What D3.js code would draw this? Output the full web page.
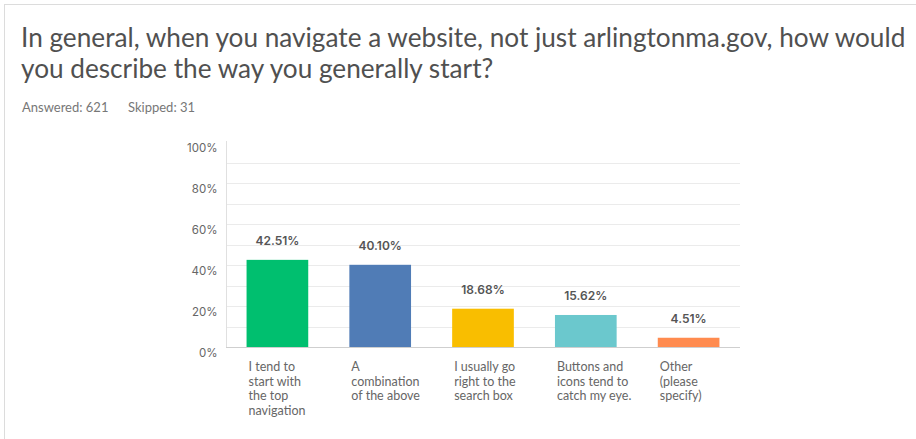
<!DOCTYPE html>
<html>
<head>
<meta charset="utf-8">
<script src="https://cdn.jsdelivr.net/npm/d3@7"></script>
<style>
  html, body { margin: 0; padding: 0; background: #fff; }
  svg { display: block; }
</style>
</head>
<body>
<svg id="chart" width="916" height="439"></svg>
<script>
// Survey question and response summary
const titleLines = [
  "In general, when you navigate a website, not just arlingtonma.gov, how would",
  "you describe the way you generally start?"
];
const answeredText = "Answered: 621";
const skippedText = "Skipped: 31";

// Answer choices (line breaks as shown under each bar)
const categories = [
  "I tend to\nstart with\nthe top\nnavigation",
  "A\ncombination\nof the above",
  "I usually go\nright to the\nsearch box",
  "Buttons and\nicons tend to\ncatch my eye.",
  "Other\n(please\nspecify)"
];
const percents = [42.51, 40.10, 18.68, 15.62, 4.51];
const barColors = ["#00bf6f", "#507cb6", "#f9be00", "#6bc8cd", "#ff8b4f"];
const yTicks = [0, 20, 40, 60, 80, 100];
const gridValues = [10, 20, 30, 40, 50, 60, 70, 80, 90];

const svg = d3.select("#chart");

// Card outline
svg.append("rect")
  .attr("x", 4.5).attr("y", 4.5)
  .attr("width", 940).attr("height", 460)
  .attr("fill", "#fff")
  .attr("stroke", "#dcdcdc");

// Title
const title = svg.append("text")
  .attr("x", 21)
  .attr("font-family", "Lato, 'Open Sans', sans-serif")
  .attr("font-size", 24)
  .attr("fill", "#505050");
title.selectAll("tspan").data(titleLines).join("tspan")
  .attr("x", 21)
  .attr("y", (d, i) => 47 + i * 31)
  .text(d => d);
// fit first line to the card width
const firstLen = title.select("tspan").node().getComputedTextLength();
const fs = 24 * 885 / firstLen;
title.attr("font-size", Math.min(fs, 27));

svg.append("text")
  .attr("x", 22).attr("y", 112)
  .attr("font-family", "Lato, sans-serif")
  .attr("font-size", 13)
  .attr("fill", "#777")
  .text(answeredText);
svg.append("text")
  .attr("x", 128).attr("y", 112)
  .attr("font-family", "Lato, sans-serif")
  .attr("font-size", 13)
  .attr("fill", "#777")
  .text(skippedText);

// Scales
const x = d3.scaleBand()
  .domain(categories)
  .range([226, 740])
  .paddingInner(0.4)
  .paddingOuter(0.2);
const y = d3.scaleLinear().domain([0, 100]).range([347, 142]);

// Gridlines
svg.append("g").selectAll("line").data(gridValues).join("line")
  .attr("x1", 226).attr("x2", 740)
  .attr("y1", d => Math.round(y(d)) + 0.5)
  .attr("y2", d => Math.round(y(d)) + 0.5)
  .attr("stroke", "#ebebeb");

// Y axis
const yAxis = svg.append("g")
  .attr("transform", "translate(226.5,0)")
  .call(d3.axisLeft(y).tickValues(yTicks).tickFormat(d => d + "%").tickSize(0).tickPadding(9));
yAxis.select(".domain").attr("stroke", "#e0e0e0").attr("d", `M0,${y(100) - 1}V${y(0)}`);
yAxis.selectAll("text")
  .attr("font-family", "Inter, sans-serif")
  .attr("font-size", 11.5)
  .attr("fill", "#666")
  .attr("dy", "0.8em");

// Bars
svg.append("g").selectAll("rect").data(categories).join("rect")
  .attr("x", d => x(d))
  .attr("width", x.bandwidth())
  .attr("y", (d, i) => y(percents[i]))
  .attr("height", (d, i) => y(0) - y(percents[i]))
  .attr("fill", (d, i) => barColors[i]);

// Baseline
svg.append("line")
  .attr("x1", 226).attr("x2", 740)
  .attr("y1", y(0) + 0.5).attr("y2", y(0) + 0.5)
  .attr("stroke", "#cfcfcf");

// Value labels
svg.append("g").selectAll("text").data(categories).join("text")
  .attr("x", d => x(d) + x.bandwidth() / 2)
  .attr("y", (d, i) => y(percents[i]) - 15)
  .attr("text-anchor", "middle")
  .attr("font-family", "Inter, sans-serif")
  .attr("font-weight", 600)
  .attr("font-size", 12)
  .attr("fill", "#555")
  .text((d, i) => percents[i].toFixed(2) + "%");

// Category labels
const catG = svg.append("g").selectAll("text").data(categories).join("text")
  .attr("font-family", "Lato, sans-serif")
  .attr("font-size", 12.5)
  .attr("fill", "#666");
catG.selectAll("tspan").data(d => d.split("\n").map(t => ({ t, c: d }))).join("tspan")
  .attr("x", d => x(d.c) + 2)
  .attr("y", (d, i) => 371 + i * 14.7)
  .text(d => d.t);
</script>
</body>
</html>
